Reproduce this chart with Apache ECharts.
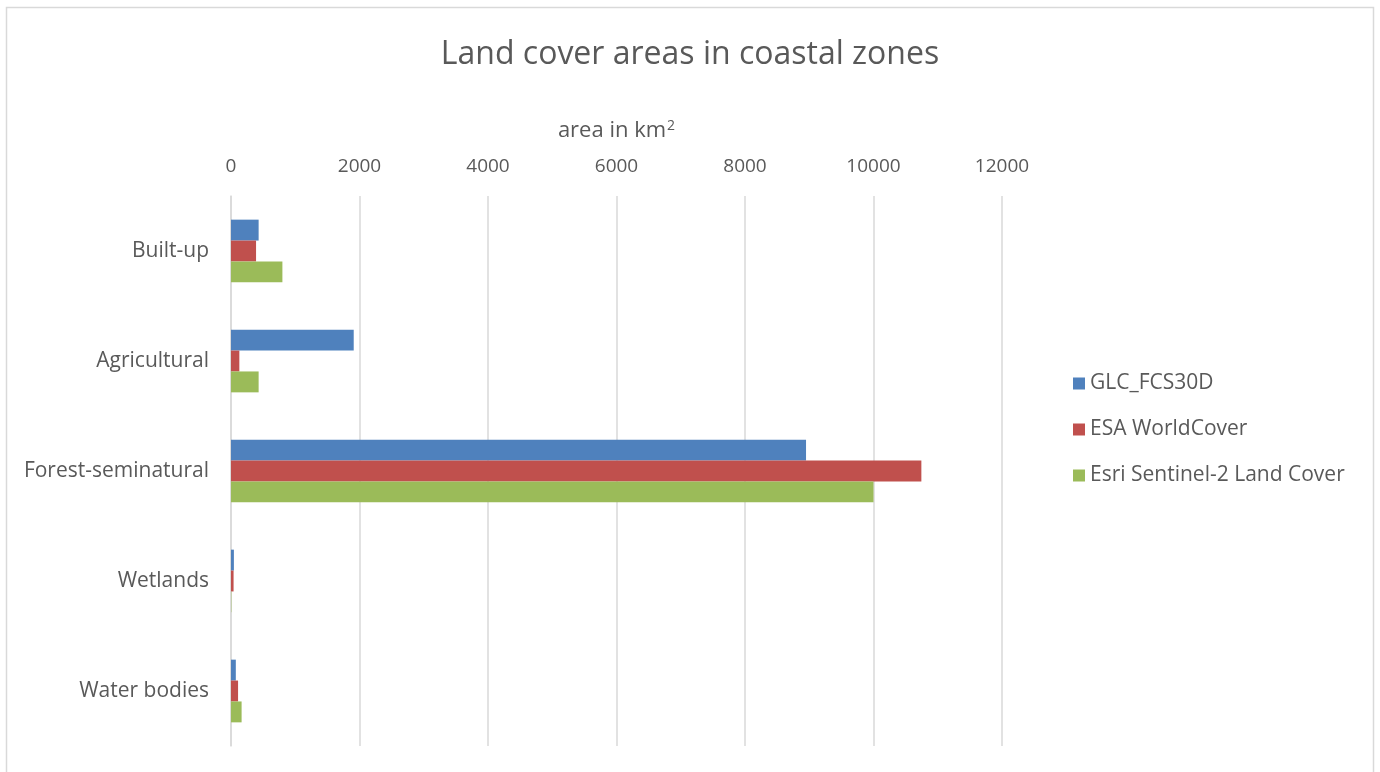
<!DOCTYPE html>
<html><head><meta charset="utf-8">
<script src="https://cdn.jsdelivr.net/npm/echarts@6/dist/echarts.min.js"></script>
<style>html,body{margin:0;padding:0;background:#fff}#c{width:1380px;height:772px}</style>
</head><body><div id="c"></div>
<script>
const categories = ["Built-up", "Agricultural", "Forest-seminatural", "Wetlands", "Water bodies"];
const seriesNames = ["GLC_FCS30D", "ESA WorldCover", "Esri Sentinel-2 Land Cover"];
const glc = [430, 1910, 8950, 45, 75];
const esa = [390, 130, 10745, 40, 110];
const esri = [800, 430, 10000, 5, 165];
const xTicks = [0, 2000, 4000, 6000, 8000, 10000, 12000];
const colors = ["#4F81BD", "#C0504D", "#9BBB59"];
const font = "'Open Sans', 'Liberation Sans', sans-serif";

const chart = echarts.init(document.getElementById('c'));
const values = [glc, esa, esri];
chart.setOption({
  animation: false,
  textStyle: {fontFamily: font},
  title: {text: "Land cover areas in coastal zones", left: 'center', top: 34,
    textStyle: {fontSize: 32, fontWeight: 'normal', color: '#595959', fontFamily: font}},
  graphic: [{type: 'rect', shape: {x: 6.5, y: 7.5, width: 1367, height: 780},
    style: {fill: 'none', stroke: '#d9d9d9', lineWidth: 1.5}, silent: true}],
  legend: {orient: 'vertical', left: 1068, top: 368, itemWidth: 12, itemHeight: 12,
    itemGap: 25, icon: 'rect',
    textStyle: {fontSize: 21, color: '#595959', fontFamily: font},
    data: seriesNames},
  grid: {left: 231, right: 378, top: 196, bottom: 26, containLabel: false},
  xAxis: {type: 'value', position: 'top', min: xTicks[0], max: xTicks[xTicks.length-1], interval: 2000,
    name: "area in km{sup|2}", nameLocation: 'middle', nameGap: 53,
    nameTextStyle: {fontSize: 22, color: '#595959', fontFamily: font,
      rich: {sup: {fontSize: 14, color: '#595959', verticalAlign: 'top', padding: [0, 0, 10, 1], fontFamily: font}}},
    axisLine: {show: false}, axisTick: {show: false},
    axisLabel: {fontSize: 19, color: '#595959', margin: 20, fontFamily: font, formatter: v => String(v)},
    splitLine: {lineStyle: {color: '#d9d9d9', width: 1.5}}},
  yAxis: {type: 'category', data: categories, inverse: true,
    axisLine: {lineStyle: {color: '#d9d9d9', width: 1.5}}, axisTick: {show: false},
    axisLabel: {fontSize: 21, color: '#595959', margin: 22, fontFamily: font}},
  series: seriesNames.map((n, i) => ({
    name: n, type: 'bar', data: values[i], barGap: '0%', barCategoryGap: '43%',
    itemStyle: {color: colors[i]}
  }))
});
</script></body></html>
